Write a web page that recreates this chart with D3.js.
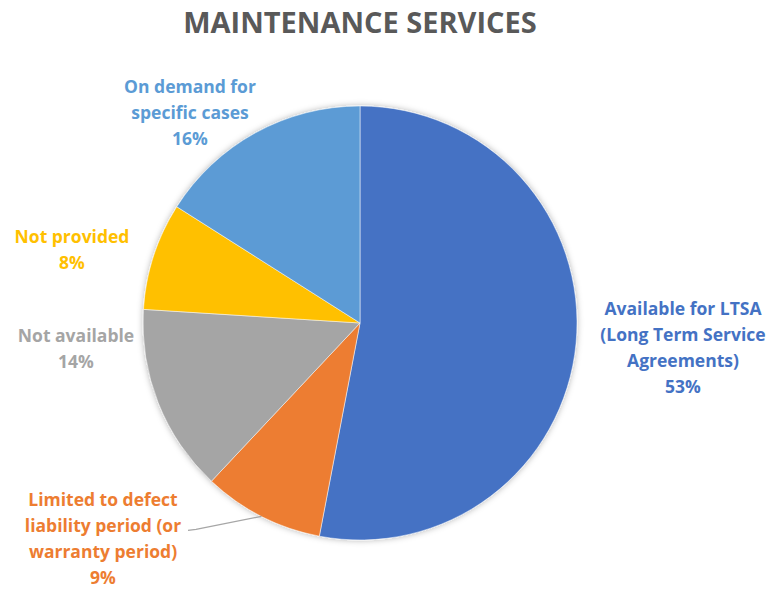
<!DOCTYPE html>
<html>
<head>
<meta charset="utf-8">
<style>
  body { margin: 0; background: #fff; }
  svg { display: block; font-family: "Open Sans", sans-serif; }
</style>
</head>
<body>
<svg id="chart" width="772" height="590"></svg>
<script src="https://cdn.jsdelivr.net/npm/d3@7"></script>
<script>
// data
var title = "MAINTENANCE SERVICES";
var categories = [
  "Available for LTSA (Long Term Service Agreements)",
  "Limited to defect liability period (or warranty period)",
  "Not available",
  "Not provided",
  "On demand for specific cases"
];
var values = [53, 9, 14, 8, 16];
var colors = ["#4472C4", "#ED7D31", "#A5A5A5", "#FFC000", "#5B9BD5"];

// label layout: wrapped lines, centre x, first baseline
var labelLines = [
  ["Available for LTSA", "(Long Term Service", "Agreements)"],
  ["Limited to defect", "liability period (or", "warranty period)"],
  ["Not available"],
  ["Not provided"],
  ["On demand for", "specific cases"]
];
var labelPos = [[683, 315], [103, 506], [76, 342], [72, 243], [190, 93]];

var svg = d3.select("#chart");
var cx = 360, cy = 323, radius = 217;

var defs = svg.append("defs");
var f = defs.append("filter").attr("id", "shadow")
    .attr("x", "-10%").attr("y", "-10%").attr("width", "120%").attr("height", "120%");
f.append("feDropShadow").attr("dx", 0).attr("dy", 0)
    .attr("stdDeviation", 3).attr("flood-color", "#000").attr("flood-opacity", 0.3);

svg.append("text")
    .attr("x", 360).attr("y", 33)
    .attr("text-anchor", "middle")
    .attr("font-size", 29).attr("font-weight", "bold")
    .attr("fill", "#595959")
    .text(title);

var pie = d3.pie().sort(null).value(function(d) { return d; });
var arc = d3.arc().innerRadius(0).outerRadius(radius);
var arcs = pie(values);

var g = svg.append("g").attr("transform", "translate(" + cx + "," + cy + ")");
g.append("g").attr("filter", "url(#shadow)")
  .selectAll("path")
  .data(arcs)
  .enter().append("path")
    .attr("d", arc)
    .attr("fill", function(d, i) { return colors[i]; })
    .attr("stroke", "#fff")
    .attr("stroke-width", 0.5);

// leader line for the orange slice
var a1 = arcs[1];
var mid = (a1.startAngle + a1.endAngle) / 2;
var ex = cx + Math.sin(mid) * radius, ey = cy - Math.cos(mid) * radius;
svg.append("polyline")
    .attr("points", [[ex, ey], [196, ey + 13], [188, ey + 14]].map(function(p) { return p.join(","); }).join(" "))
    .attr("fill", "none")
    .attr("stroke", "#A6A6A6")
    .attr("stroke-width", 1.3);

var lh = 26;
labelLines.forEach(function(lines, i) {
  var t = svg.append("text")
      .attr("text-anchor", "middle")
      .attr("font-size", 17.5).attr("font-weight", "bold")
      .attr("fill", colors[i]);
  lines.concat([values[i] + "%"]).forEach(function(s, k) {
    t.append("tspan")
        .attr("x", labelPos[i][0])
        .attr("y", labelPos[i][1] + k * lh)
        .text(s);
  });
});
</script>
</body>
</html>
